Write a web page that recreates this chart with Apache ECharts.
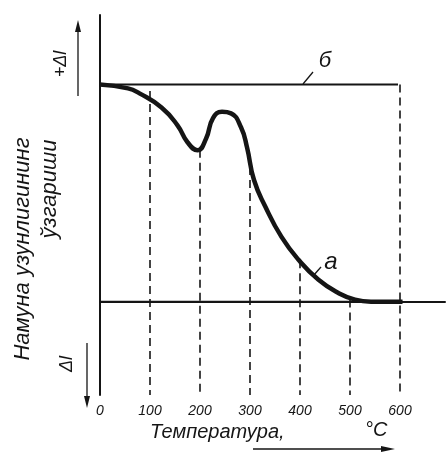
<!DOCTYPE html>
<html>
<head>
<meta charset="utf-8">
<script src="https://cdn.jsdelivr.net/npm/echarts@6/dist/echarts.min.js"></script>
<style>
  html, body { margin: 0; padding: 0; background: #fff; }
  #chart { width: 448px; height: 452px; }
</style>
</head>
<body>
<div id="chart"></div>
<script>
// Dilatometric curve: sample length change vs temperature
const temps = [0, 56, 79, 123, 155, 175, 195, 212, 226, 244, 262, 282, 294, 308, 331, 363, 397, 437, 476, 510, 542, 605];
const curveA = [100, 98.2, 95.9, 89.4, 81.2, 73.4, 69.7, 75, 84.5, 87.4, 86.7, 80.3, 71.1, 56, 43.6, 29.8, 19.3, 10.1, 4.1, 0.9, 0, 0];

// line б (no change) and the final level of curve а
const lineB = [[0, 100], [596, 100]];
const lineBottom = [[0, 0], [605, 0]];

// dashed drop lines: temperature and where each one starts
const dropTemps = [100, 200, 300, 400, 500, 600];
const dropTops = [97, 70, 62, 19, 1, 100];

const xTicks = [0, 100, 200, 300, 400, 500, 600];
const axisMin = -43;

const ink = '#151515';
const font = 'Liberation Sans';

const chart = echarts.init(document.getElementById('chart'));

const dropSeries = dropTemps.map((t, i) => ({
    type: 'line',
    data: [[t, dropTops[i]], [t, axisMin]],
    symbol: 'none',
    silent: true,
    lineStyle: { color: ink, width: 1.6, type: [8, 5] },
    z: 1
}));

function arrowHead(x, y, dir) {
    // dir: 'up' | 'down' | 'right'
    if (dir === 'up') return [[x, y], [x - 3, y + 12], [x + 3, y + 12]];
    if (dir === 'down') return [[x, y], [x - 3, y - 12], [x + 3, y - 12]];
    return [[x, y], [x - 14, y - 3], [x - 14, y + 3]];
}

const option = {
    animation: false,
    backgroundColor: '#fff',
    grid: { left: 100, right: 0, top: 15, bottom: 57 },
    xAxis: {
        type: 'value',
        min: 0,
        max: 690,
        interval: 100,
        axisLine: { show: true, lineStyle: { color: ink, width: 2 } },
        axisTick: { show: false },
        splitLine: { show: false },
        axisLabel: {
            color: ink,
            fontFamily: font,
            fontStyle: 'italic',
            fontSize: 14,
            margin: 9,
            formatter: v => (xTicks.indexOf(v) >= 0 ? String(v) : '')
        }
    },
    yAxis: {
        type: 'value',
        min: axisMin,
        max: 132,
        axisLine: { show: true, onZero: false, lineStyle: { color: ink, width: 2 } },
        axisTick: { show: false },
        axisLabel: { show: false },
        splitLine: { show: false }
    },
    series: [
        {
            type: 'line',
            data: temps.map((t, i) => [t, curveA[i]]),
            smooth: 0.5,
            symbol: 'none',
            lineStyle: { color: ink, width: 4.5 },
            z: 3
        },
        {
            type: 'line',
            data: lineB,
            symbol: 'none',
            lineStyle: { color: ink, width: 2 },
            z: 2
        },
        {
            type: 'line',
            data: lineBottom,
            symbol: 'none',
            lineStyle: { color: ink, width: 2 },
            z: 2
        },
        ...dropSeries
    ],
    graphic: [
        // y axis title, two rotated lines
        {
            type: 'text', x: 23, y: 249, rotation: Math.PI / 2,
            style: { text: 'Намуна узунлигининг', fill: ink, font: 'italic 22px ' + font, textAlign: 'center', textVerticalAlign: 'middle' }
        },
        {
            type: 'text', x: 50, y: 189, rotation: Math.PI / 2,
            style: { text: 'ўзгариши', fill: ink, font: 'italic 22px ' + font, textAlign: 'center', textVerticalAlign: 'middle' }
        },
        // +Δl with arrow up
        {
            type: 'text', x: 61, y: 64, rotation: Math.PI / 2,
            style: { text: '+Δl', fill: ink, font: 'italic 18px ' + font, textAlign: 'center', textVerticalAlign: 'middle' }
        },
        { type: 'line', shape: { x1: 78, y1: 96, x2: 78, y2: 30 }, style: { stroke: ink, lineWidth: 1.3 } },
        { type: 'polygon', shape: { points: arrowHead(78, 20, 'up') }, style: { fill: ink } },
        // Δl with arrow down
        {
            type: 'text', x: 67, y: 364, rotation: Math.PI / 2,
            style: { text: 'Δl', fill: ink, font: 'italic 18px ' + font, textAlign: 'center', textVerticalAlign: 'middle' }
        },
        { type: 'line', shape: { x1: 87, y1: 343, x2: 87, y2: 398 }, style: { stroke: ink, lineWidth: 1.3 } },
        { type: 'polygon', shape: { points: arrowHead(87, 408, 'down') }, style: { fill: ink } },
        // x axis title with arrow
        {
            type: 'text', x: 150, y: 432,
            style: { text: 'Температура,', fill: ink, font: 'italic 20px ' + font, textAlign: 'left', textVerticalAlign: 'middle' }
        },
        {
            type: 'text', x: 365, y: 430,
            style: { text: '°C', fill: ink, font: 'italic 20px ' + font, textAlign: 'left', textVerticalAlign: 'middle' }
        },
        { type: 'line', shape: { x1: 253, y1: 449, x2: 385, y2: 449 }, style: { stroke: ink, lineWidth: 1.3 } },
        { type: 'polygon', shape: { points: arrowHead(395, 449, 'right') }, style: { fill: ink } },
        // curve names
        { type: 'line', shape: { x1: 303, y1: 84, x2: 313, y2: 72 }, style: { stroke: ink, lineWidth: 1.3 } },
        {
            type: 'text', x: 325, y: 61,
            style: { text: 'б', fill: ink, font: 'italic 22px ' + font, textAlign: 'center', textVerticalAlign: 'middle' }
        },
        { type: 'line', shape: { x1: 313, y1: 276, x2: 321, y2: 267 }, style: { stroke: ink, lineWidth: 1.3 } },
        {
            type: 'text', x: 331, y: 262,
            style: { text: 'а', fill: ink, font: 'italic 24px ' + font, textAlign: 'center', textVerticalAlign: 'middle' }
        }
    ]
};

chart.setOption(option);
</script>
</body>
</html>
